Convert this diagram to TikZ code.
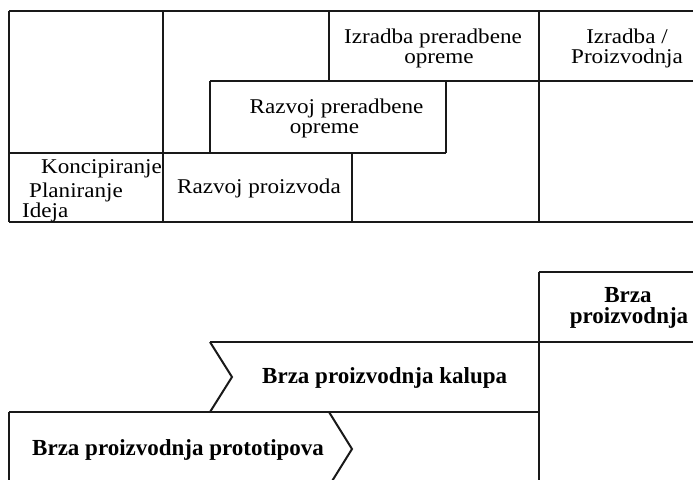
\documentclass[tikz,border=0pt]{standalone}
\usepackage{fontspec}
\setmainfont{Liberation Serif}
\newfontfamily\regfont[FakeStretch=1.1]{Liberation Serif}
\newfontfamily\boldfont{Liberation Serif Bold}
\begin{document}
\begin{tikzpicture}[x=1pt,y=-1pt,
  rule/.style={line width=2pt,draw=black!90},
  thinrule/.style={line width=1.3pt,draw=black!90},
  reg/.style={inner sep=0pt,font=\regfont\fontsize{21}{22}\selectfont},
  bld/.style={inner sep=0pt,font=\boldfont\fontsize{23}{24}\selectfont}]
\useasboundingbox (0,0) rectangle (693,479);
\begin{scope}
\clip (0,0) rectangle (693,479);
% ---------- top section ----------
\draw[rule] (9,11) -- (693,11);
\draw[rule] (9,222) -- (693,222);
\draw[rule] (9,11) -- (9,222);
\draw[rule] (163,11) -- (163,222);
\draw[rule] (329,11) -- (329,81);
\draw[rule] (539,11) -- (539,222);
\draw[rule] (210,81) -- (693,81);
\draw[rule] (210,81) -- (210,153);
\draw[rule] (446,81) -- (446,153);
\draw[rule] (9,153) -- (446,153);
\draw[rule] (352,153) -- (352,222);
% ---------- bottom section ----------
\draw[rule] (539,272) -- (693,272);
\draw[thinrule] (539,272) -- (539,485);
\draw[rule] (210,342) -- (693,342);
\draw[rule] (210,342) -- (232,377) -- (210,412);
\draw[rule] (9,412) -- (539,412);
\draw[rule] (9,412) -- (9,485);
\draw[rule] (329,412) -- (352,449) -- (329,486);
\end{scope}
% ---------- texts ----------
\node[reg,anchor=base] (izp1) at (433,43) {Izradba preradbene};
\node[reg,anchor=base] (izp2) at (439,63) {opreme};
\node[reg,anchor=base] (izr1) at (627,43) {Izradba /};
\node[reg,anchor=base] (izr2) at (627,63) {Proizvodnja};
\node[reg,anchor=base] (rzp1) at (336.5,113) {Razvoj preradbene};
\node[reg,anchor=base] (rzp2) at (324.5,133) {opreme};
\node[reg,anchor=base west] (rpr) at (177,193) {Razvoj proizvoda};
\node[reg,anchor=base west] (kon) at (41,173) {Koncipiranje};
\node[reg,anchor=base west] (pla) at (29,197) {Planiranje};
\node[reg,anchor=base west] (ide) at (22,217) {Ideja};
\node[bld,anchor=base west] (kal) at (262,383) {Brza proizvodnja kalupa};
\node[bld,anchor=base west] (pro) at (32,455) {Brza proizvodnja prototipova};
\node[bld,anchor=base] (bp1) at (628,302) {Brza};
\node[bld,anchor=base] (bp2) at (629,323) {proizvodnja};
\end{tikzpicture}
\end{document}
